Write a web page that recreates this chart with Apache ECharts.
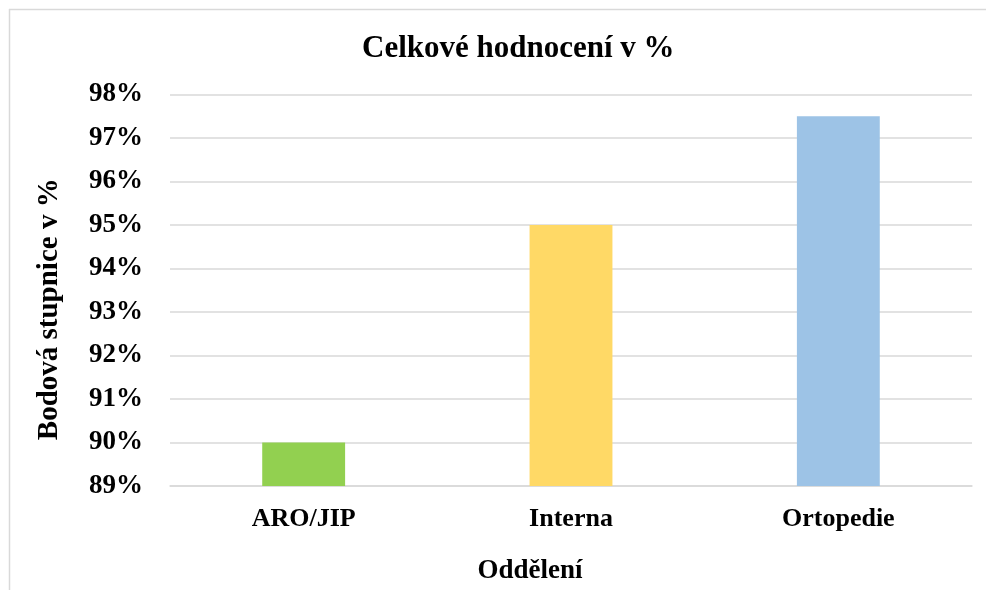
<!DOCTYPE html>
<html>
<head>
<meta charset="utf-8">
<script src="https://cdn.jsdelivr.net/npm/echarts@6/dist/echarts.min.js"></script>
<style>
  html, body { margin: 0; padding: 0; background: #fff; }
  #chart { width: 986px; height: 590px; }
</style>
</head>
<body>
<div id="chart"></div>
<script>
const categories = ['ARO/JIP', 'Interna', 'Ortopedie']
const values = [90, 95, 97.5]
const barColors = ['#92D050', '#FFD966', '#9DC3E6']
const yMin = 89
const yMax = 98

const serif = '"Liberation Serif", "DejaVu Serif", serif'
const chart = echarts.init(document.getElementById('chart'))

chart.setOption({
  animation: false,
  backgroundColor: '#fff',
  title: {
    text: 'Celkové hodnocení v %',
    left: 357,
    top: 28,
    textStyle: { fontFamily: serif, fontSize: 31, fontWeight: 'bold', color: '#000' }
  },
  grid: { left: 170, right: 14, top: 94.5, bottom: 103.5 },
  xAxis: {
    type: 'category',
    data: categories,
    name: 'Oddělení',
    nameLocation: 'middle',
    nameGap: 72,
    nameTextStyle: { fontFamily: serif, fontSize: 27, fontWeight: 'bold', color: '#000', padding: [0, 82, 0, 0] },
    axisLine: { lineStyle: { color: '#d9d9d9', width: 1.5 } },
    axisTick: { show: false },
    axisLabel: { margin: 20, fontFamily: serif, fontSize: 26, fontWeight: 'bold', color: '#000' }
  },
  yAxis: {
    type: 'value',
    min: yMin,
    max: yMax,
    interval: 1,
    name: 'Bodová stupnice v %',
    nameLocation: 'middle',
    nameGap: 106,
    nameTextStyle: { fontFamily: serif, fontSize: 29, fontWeight: 'bold', color: '#000', padding: [0, 38, 0, 0] },
    axisLine: { show: false },
    axisTick: { show: false },
    splitLine: { lineStyle: { color: '#d9d9d9', width: 1.5 } },
    axisLabel: {
      margin: 27,
      fontFamily: serif, fontSize: 27, fontWeight: 'bold', color: '#000',
      formatter: v => v + '%'
    }
  },
  series: [{
    type: 'bar',
    data: values.map((v, i) => ({ value: v, itemStyle: { color: barColors[i] } })),
    barWidth: '31%'
  }],
  graphic: [
    { type: 'line', shape: { x1: 9, y1: 9.5, x2: 986, y2: 9.5 }, style: { stroke: '#d9d9d9', lineWidth: 1.5 } },
    { type: 'line', shape: { x1: 9.5, y1: 9, x2: 9.5, y2: 590 }, style: { stroke: '#d9d9d9', lineWidth: 1.5 } }
  ]
})
</script>
</body>
</html>
